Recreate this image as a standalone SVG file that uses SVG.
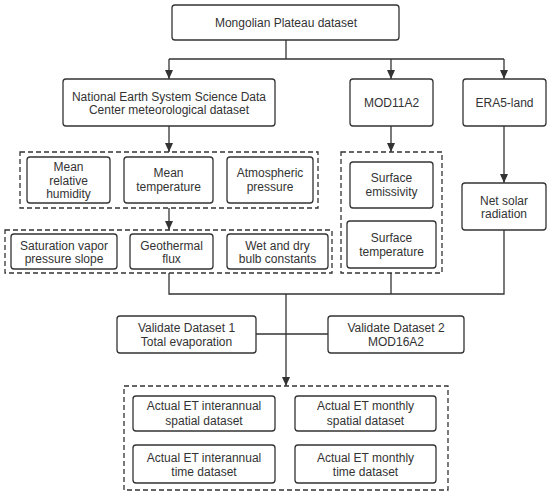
<svg xmlns="http://www.w3.org/2000/svg" width="550" height="495" viewBox="0 0 550 495">
<style>
.box{fill:#fff;stroke:#333;stroke-width:1.3}
.dash{fill:none;stroke:#333;stroke-width:1.3;stroke-dasharray:5 3}
.ln{fill:none;stroke:#333;stroke-width:1.3}
text{font-family:"Liberation Sans",Arial,sans-serif;font-size:12px;fill:#333;text-anchor:middle}
</style>
<defs>
<marker id="ah" markerUnits="userSpaceOnUse" markerWidth="10" markerHeight="10" viewBox="0 0 10 10" refX="9" refY="5" orient="auto">
<path d="M0,1 L9,5 L0,9 Z" fill="#333"/>
</marker>
</defs>
<rect width="550" height="495" fill="#fff"/>
<g id="connectors">
<path class="ln" d="M286,40 V59"/>
<path class="ln" d="M169,59 H504"/>
<path class="ln" d="M169,59 V79" marker-end="url(#ah)"/>
<path class="ln" d="M391,59 V79" marker-end="url(#ah)"/>
<path class="ln" d="M504,59 V79" marker-end="url(#ah)"/>
<path class="ln" d="M169,126 V152" marker-end="url(#ah)"/>
<path class="ln" d="M391,126 V152" marker-end="url(#ah)"/>
<path class="ln" d="M504,126 V183" marker-end="url(#ah)"/>
<path class="ln" d="M169,208 V230" marker-end="url(#ah)"/>
<path class="ln" d="M169,273 V294 H504 V230"/>
<path class="ln" d="M391,273 V294"/>
<path class="ln" d="M256,334 H328"/>
<path class="ln" d="M286,294 V386" marker-end="url(#ah)"/>
</g>
<g id="group-met">
<rect class="dash" x="20" y="152" width="298" height="56"/>
</g>
<g id="group-derived">
<rect class="dash" x="5" y="230" width="327" height="43"/>
</g>
<g id="group-mod">
<rect class="dash" x="341" y="152" width="101" height="121"/>
</g>
<g id="group-output">
<rect class="dash" x="124" y="386" width="324" height="104"/>
</g>
<g id="mongolian">
<rect class="box" x="172" y="5" width="227" height="35" rx="3"/>
<text x="286" y="27">Mongolian Plateau dataset</text>
</g>
<g id="nessdc">
<rect class="box" x="63" y="79" width="212" height="47" rx="3"/>
<text x="169" y="101">National Earth System Science Data</text>
<text x="169" y="114">Center meteorological dataset</text>
</g>
<g id="mod11a2">
<rect class="box" x="350" y="79" width="83" height="47" rx="3"/>
<text x="391.5" y="107">MOD11A2</text>
</g>
<g id="era5">
<rect class="box" x="463" y="79" width="83" height="47" rx="3"/>
<text x="504.5" y="107">ERA5-land</text>
</g>
<g id="humidity">
<rect class="box" x="27" y="157" width="83" height="46" rx="3"/>
<text x="68.5" y="171">Mean</text>
<text x="68.5" y="185">relative</text>
<text x="68.5" y="198">humidity</text>
</g>
<g id="temperature">
<rect class="box" x="124" y="157" width="89" height="46" rx="3"/>
<text x="168.5" y="177">Mean</text>
<text x="168.5" y="191">temperature</text>
</g>
<g id="pressure">
<rect class="box" x="227" y="157" width="86" height="46" rx="3"/>
<text x="270" y="177">Atmospheric</text>
<text x="270" y="191">pressure</text>
</g>
<g id="saturation">
<rect class="box" x="11" y="234" width="106" height="35" rx="3"/>
<text x="64" y="250">Saturation vapor</text>
<text x="64" y="263">pressure slope</text>
</g>
<g id="geothermal">
<rect class="box" x="130" y="234" width="83" height="35" rx="3"/>
<text x="171.5" y="250">Geothermal</text>
<text x="171.5" y="263">flux</text>
</g>
<g id="wetdry">
<rect class="box" x="227" y="234" width="101" height="35" rx="3"/>
<text x="277.5" y="250">Wet and dry</text>
<text x="277.5" y="263">bulb constants</text>
</g>
<g id="emissivity">
<rect class="box" x="350" y="162" width="83" height="46" rx="3"/>
<text x="391.5" y="182">Surface</text>
<text x="391.5" y="196">emissivity</text>
</g>
<g id="surftemp">
<rect class="box" x="347" y="221" width="89" height="47" rx="3"/>
<text x="391.5" y="242">Surface</text>
<text x="391.5" y="256">temperature</text>
</g>
<g id="netsolar">
<rect class="box" x="462" y="183" width="84" height="47" rx="3"/>
<text x="504" y="205">Net solar</text>
<text x="504" y="218">radiation</text>
</g>
<g id="validate1">
<rect class="box" x="117" y="316" width="139" height="37" rx="3"/>
<text x="186.5" y="332">Validate Dataset 1</text>
<text x="186.5" y="346">Total evaporation</text>
</g>
<g id="validate2">
<rect class="box" x="328" y="316" width="136" height="37" rx="3"/>
<text x="396" y="332">Validate Dataset 2</text>
<text x="396" y="346">MOD16A2</text>
</g>
<g id="et-annual-spatial">
<rect class="box" x="133" y="396" width="142" height="35" rx="3"/>
<text x="204" y="410">Actual ET interannual</text>
<text x="204" y="425">spatial dataset</text>
</g>
<g id="et-monthly-spatial">
<rect class="box" x="295" y="396" width="141" height="35" rx="3"/>
<text x="365.5" y="410">Actual ET monthly</text>
<text x="365.5" y="425">spatial dataset</text>
</g>
<g id="et-annual-time">
<rect class="box" x="133" y="445" width="142" height="38" rx="3"/>
<text x="204" y="462">Actual ET interannual</text>
<text x="204" y="476">time dataset</text>
</g>
<g id="et-monthly-time">
<rect class="box" x="295" y="445" width="141" height="38" rx="3"/>
<text x="365.5" y="462">Actual ET monthly</text>
<text x="365.5" y="476">time dataset</text>
</g>
</svg>
